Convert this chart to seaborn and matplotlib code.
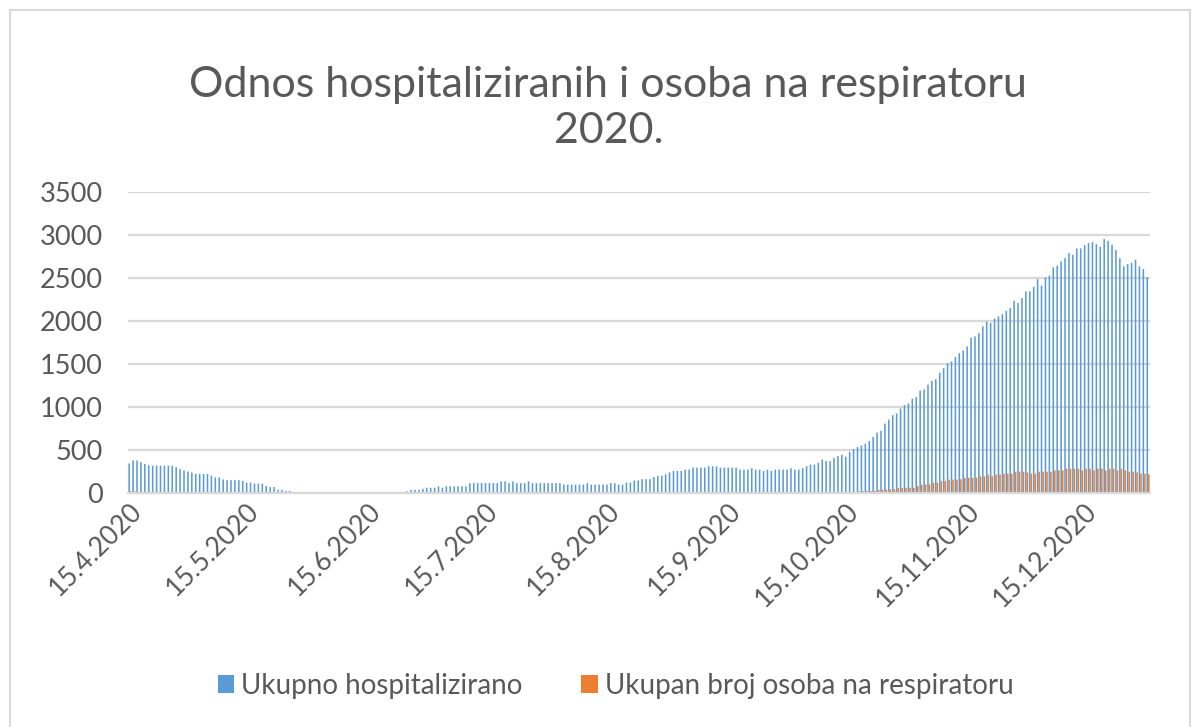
import numpy as np
import pandas as pd
import matplotlib
matplotlib.use("Agg")
import matplotlib.pyplot as plt
import matplotlib.transforms as mtransforms
import seaborn as sns
from matplotlib.patches import Rectangle

# dnevne vrijednosti od 15.4.2020. do 31.12.2020. (ocitano sa slike)
hosp_apr_may = [343, 379, 379, 359, 339, 323, 318, 318, 318, 318,
                318, 318, 302, 278, 262, 250, 238, 222, 222, 222,
                222, 202, 181, 181, 157, 149, 149, 149, 149, 141,
                121, 121, 109, 109, 109, 81, 69, 69, 36, 36,
                24, 24, 10]
hosp_jun = [0] * 28
hosp_jul_aug = [20, 37, 37, 37, 49, 61, 61, 61, 78, 61,
                78, 78, 78, 78, 78, 78, 115, 115, 115, 115,
                115, 115, 115, 115, 135, 135, 115, 135, 115, 115,
                115, 135, 115, 115, 115, 115, 115, 115, 115, 115,
                98, 98, 98, 98, 98, 98, 115, 98, 98, 98,
                98, 98, 115, 115, 98, 98]
hosp_aug_oct = [122, 122, 146, 146, 161, 161, 161, 185, 201, 201,
                217, 240, 256, 256, 256, 272, 272, 295, 295, 295,
                295, 311, 311, 311, 295, 295, 295, 295, 295, 272,
                272, 272, 288, 272, 272, 256, 272, 256, 272, 272,
                272, 272, 288, 272, 272, 288, 311, 331, 331, 351,
                390, 370, 370, 406, 429, 445, 422, 480]
hosp_oct_nov = [511, 534, 554, 573, 604, 651, 702, 722, 807, 854,
                905, 924, 983, 1022, 1041, 1096, 1115, 1190, 1205, 1260,
                1303, 1322, 1400, 1451, 1509, 1529, 1580, 1626, 1658, 1704,
                1806, 1821, 1860, 1938, 1992, 1977, 2028, 2055]
hosp_nov_dec = [2080, 2118, 2150, 2235, 2208, 2266, 2344, 2344, 2398, 2487,
                2410, 2506, 2526, 2623, 2642, 2693, 2731, 2790, 2770, 2844,
                2844, 2883, 2906, 2918, 2894, 2863, 2953, 2933, 2887, 2825,
                2731, 2635, 2662, 2677, 2712, 2635, 2603, 2510]

resp_start = [20, 18, 15]
resp_mid = [0] * 183
resp_oct_nov = [20, 23, 25, 23, 25, 35, 39, 39, 42, 45,
                59, 59, 59, 62, 60, 82, 95, 101, 101, 121,
                121, 140, 140, 156, 156, 156, 160, 176, 176, 176,
                180, 195, 195, 214, 195, 214, 214]
resp_nov_dec = [225, 225, 225, 248, 248, 248, 240, 225, 225, 248,
                248, 248, 248, 264, 264, 264, 283, 283, 283, 283,
                264, 283, 283, 264, 283, 283, 264, 283, 283, 264,
                283, 264, 248, 248, 240, 225, 225, 217]

hospitalizirani = hosp_apr_may + hosp_jun + hosp_jul_aug + hosp_aug_oct + hosp_oct_nov + hosp_nov_dec
respirator = resp_start + resp_mid + resp_oct_nov + resp_nov_dec

series_names = ["Ukupno hospitalizirano", "Ukupan broj osoba na respiratoru"]
colors = ["#5B9BD5", "#ED7D31"]
y_ticks = [0, 500, 1000, 1500, 2000, 2500, 3000, 3500]

n = len(hospitalizirani)
dates = pd.date_range("2020-04-15", periods=n, freq="D")
df = pd.DataFrame({
    "dan": list(range(n)) * 2,
    "broj": hospitalizirani + respirator,
    "serija": [series_names[0]] * n + [series_names[1]] * n,
})

text_col = "#595959"
grid_col = "#D9D9D9"

sns.set_style("white")
plt.rcParams["font.family"] = ["Lato", "DejaVu Sans"]

fig = plt.figure(figsize=(12, 7.27), dpi=100)
ax = fig.add_axes([128 / 1200, 1 - 493 / 727, (1150 - 128) / 1200, (493 - 192) / 727])

sns.barplot(data=df, x="dan", y="broj", hue="serija", palette=colors,
            saturation=1, width=0.8, linewidth=0, edgecolor="none",
            errorbar=None, ax=ax)

# tanki stupci: bez snap-a da se boje ne mijesaju nepravilno
for p in ax.patches:
    p.set_snap(False)

ax.set_xlim(-0.5, n - 0.5)
ax.set_ylim(0, 3500)
ax.set_yticks(y_ticks)
ax.set_yticklabels([str(v) for v in y_ticks])
ax.yaxis.grid(True, color=grid_col, linewidth=1.6)
ax.set_axisbelow(True)

tick_pos = [i for i, d in enumerate(dates) if d.day == 15]
tick_lab = [f"{dates[i].day}.{dates[i].month}.{dates[i].year}" for i in tick_pos]

ax.set_xlabel("")
ax.set_ylabel("")
for s in ["left", "top", "right"]:
    ax.spines[s].set_visible(False)
ax.spines["bottom"].set_color(grid_col)
ax.spines["bottom"].set_linewidth(1.6)
ax.tick_params(axis="y", length=0, pad=18, labelsize=19.5, labelcolor=text_col)
ax.tick_params(axis="x", length=6, width=1.6, color=grid_col, pad=3,
               labelsize=19, labelcolor=text_col)

ax.set_xticks(tick_pos)
ax.set_xticklabels(tick_lab, rotation=45, ha="right", va="center", rotation_mode="anchor")

# malo pomakni datume udesno kao u originalu
shift = mtransforms.ScaledTranslation(8 / 100, -2 / 100, fig.dpi_scale_trans)
for tick in ax.xaxis.get_major_ticks():
    tick.label1.set_transform(tick.label1.get_transform() + shift)

# legenda ispod grafa
handles, labels = ax.get_legend_handles_labels()
ax.get_legend().remove()
fig.legend(handles, labels, loc="center", bbox_to_anchor=(0.513, 1 - 686 / 727),
           ncol=2, frameon=False, fontsize=20, labelcolor=text_col,
           handlelength=0.6, handleheight=0.6, handletextpad=0.25, columnspacing=2.1)

fig.text(0.507, 1 - 108 / 727, "Odnos hospitaliziranih i osoba na respiratoru\n2020.",
         ha="center", va="center", fontsize=31, color=text_col, linespacing=1.25)

# okvir grafikona
fig.patches.append(Rectangle((10 / 1200, -0.05), 1180 / 1200, 1 - 10 / 727 + 0.05,
                             transform=fig.transFigure, fill=False,
                             edgecolor=grid_col, linewidth=1.5))

fig.savefig("out.png", dpi=100)
